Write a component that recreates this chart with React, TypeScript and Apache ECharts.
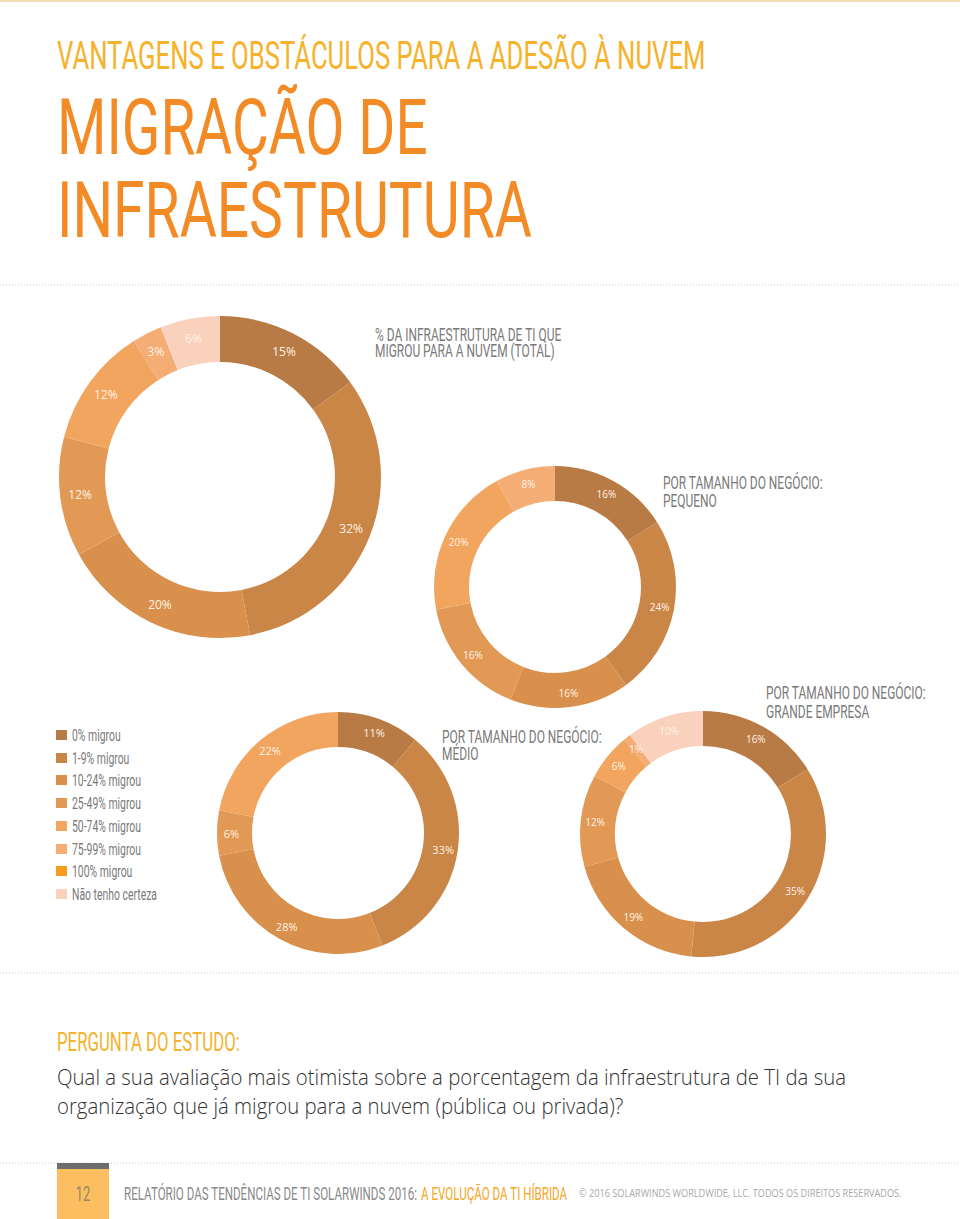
import React, { useEffect, useRef } from "react";
import * as echarts from "echarts";

// ---------- data ----------
const categories = [
  "0% migrou",
  "1-9% migrou",
  "10-24% migrou",
  "25-49% migrou",
  "50-74% migrou",
  "75-99% migrou",
  "100% migrou",
  "Não tenho certeza",
];
const categoryColors = [
  "#b97b45",
  "#ca8646",
  "#d8904c",
  "#e19955",
  "#f1a55e",
  "#f4ad75",
  "#f59d1f",
  "#f9d1bd",
];

const totalCats = ["0% migrou", "1-9% migrou", "10-24% migrou", "25-49% migrou", "50-74% migrou", "75-99% migrou", "Não tenho certeza"];
const totalValues = [15, 32, 20, 12, 12, 3, 6];

const smallCats = ["0% migrou", "1-9% migrou", "10-24% migrou", "25-49% migrou", "50-74% migrou", "75-99% migrou"];
const smallValues = [16, 24, 16, 16, 20, 8];

const mediumCats = ["0% migrou", "1-9% migrou", "10-24% migrou", "25-49% migrou", "50-74% migrou"];
const mediumValues = [11, 33, 28, 6, 22];

const largeCats = ["0% migrou", "1-9% migrou", "10-24% migrou", "25-49% migrou", "50-74% migrou", "75-99% migrou", "Não tenho certeza"];
const largeValues = [16, 35, 19, 12, 6, 1, 10];

// ---------- helpers ----------
const COND = "'Liberation Sans Narrow', 'Roboto', sans-serif";
const OPEN = "'Open Sans', sans-serif";

let measureCtx: CanvasRenderingContext2D | null = null;
function fit(text: string, font: string, width: number) {
  if (!measureCtx) measureCtx = document.createElement("canvas").getContext("2d");
  measureCtx!.font = font;
  const w = measureCtx!.measureText(text).width;
  return w > 0 ? width / w : 1;
}

function txt(text: string, x: number, y: number, font: string, fill: string, scaleX: number, align = "left") {
  return {
    type: "text",
    x,
    y,
    scaleX,
    silent: true,
    style: { text, x: 0, y: 0, font, fill, align, verticalAlign: "middle", textAlign: align, textVerticalAlign: "middle" },
  };
}

function colorOf(name: string) {
  return categoryColors[categories.indexOf(name)];
}

function pieSeries(cats: string[], values: number[], center: number[], radius: number[], fontSize: number) {
  return {
    type: "pie",
    center,
    radius,
    startAngle: 90,
    clockwise: true,
    silent: true,
    avoidLabelOverlap: false,
    emphasis: { disabled: true },
    labelLine: { show: false },
    label: {
      show: true,
      position: "inside",
      formatter: "{c}%",
      color: "#fff3e6",
      fontFamily: "Open Sans",
      fontSize,
    },
    itemStyle: { borderWidth: 0 },
    data: cats.map((n, i) => ({ name: n, value: values[i], itemStyle: { color: colorOf(n) } })),
  };
}

function dotted(y: number, x1 = 0, x2 = 960) {
  return {
    type: "line",
    silent: true,
    shape: { x1, y1: y, x2, y2: y },
    style: { stroke: "#c9c9c9", lineWidth: 1, lineDash: [1, 2] },
  };
}

export default function App() {
  const ref = useRef<HTMLDivElement>(null);
  useEffect(() => {
    if (!ref.current) return;
    const chart = echarts.init(ref.current, undefined, { renderer: "svg" });

    const fT1 = `normal 38px ${COND}`;
    const fT2 = `normal 78px ${COND}`;
    const fSub = `normal 18.5px ${COND}`;
    const fLeg = `normal 16.5px ${COND}`;
    const fQ = `300 21.5px ${OPEN}`;
    const fPerg = `normal 25px ${COND}`;
    const fFoot = `normal 19px ${COND}`;
    const fCopy = `normal 11px ${OPEN}`;

    const sSub = fit("POR TAMANHO DO NEGÓCIO:", fSub, 160);
    const sLeg = fit("Não tenho certeza", fLeg, 85);
    const sQ = fit("Qual a sua avaliação mais otimista sobre a porcentagem da infraestrutura de TI da sua", fQ, 789);
    const sFoot = fit("RELATÓRIO DAS TENDÊNCIAS DE TI SOLARWINDS 2016:", fFoot, 294);

    const legendRows = [735, 758, 780, 803, 826, 849, 871, 894];
    const legendGraphics: any[] = [];
    categories.forEach((c, i) => {
      legendGraphics.push({
        type: "rect",
        silent: true,
        shape: { x: 56, y: legendRows[i] - 5, width: 11, height: 10 },
        style: { fill: categoryColors[i] },
      });
      legendGraphics.push(txt(c, 72, legendRows[i], fLeg, "#7a7a7a", sLeg));
    });

    const graphic: any[] = [
      { type: "rect", silent: true, shape: { x: 0, y: 0, width: 960, height: 2 }, style: { fill: "#f4dcb2" } },
      txt("VANTAGENS E OBSTÁCULOS PARA A ADESÃO À NUVEM", 57, 56, fT1, "#f5b22a", fit("VANTAGENS E OBSTÁCULOS PARA A ADESÃO À NUVEM", fT1, 649)),
      txt("MIGRAÇÃO DE", 57, 128, fT2, "#f28a25", fit("MIGRAÇÃO DE", fT2, 371)),
      txt("INFRAESTRUTURA", 57, 211, fT2, "#f28a25", fit("INFRAESTRUTURA", fT2, 475)),
      dotted(285),
      txt("% DA INFRAESTRUTURA DE TI QUE", 375, 335, fSub, "#7a7a7a", sSub),
      txt("MIGROU PARA A NUVEM (TOTAL)", 375, 351, fSub, "#7a7a7a", sSub),
      txt("POR TAMANHO DO NEGÓCIO:", 663, 483, fSub, "#7a7a7a", sSub),
      txt("PEQUENO", 663, 501, fSub, "#7a7a7a", sSub),
      txt("POR TAMANHO DO NEGÓCIO:", 442, 737, fSub, "#7a7a7a", sSub),
      txt("MÉDIO", 442, 754, fSub, "#7a7a7a", sSub),
      txt("POR TAMANHO DO NEGÓCIO:", 766, 693, fSub, "#7a7a7a", sSub),
      txt("GRANDE EMPRESA", 766, 712, fSub, "#7a7a7a", sSub),
      ...legendGraphics,
      dotted(973),
      txt("PERGUNTA DO ESTUDO:", 57, 1042, fPerg, "#f5b22a", fit("PERGUNTA DO ESTUDO:", fPerg, 183)),
      txt("Qual a sua avaliação mais otimista sobre a porcentagem da infraestrutura de TI da sua", 57, 1077, fQ, "#333333", sQ),
      txt("organização que já migrou para a nuvem (pública ou privada)?", 57, 1106, fQ, "#333333", sQ),
      dotted(1163),
      { type: "rect", silent: true, shape: { x: 57, y: 1163, width: 52, height: 56 }, style: { fill: "#fbbf62" } },
      { type: "rect", silent: true, shape: { x: 57, y: 1163, width: 52, height: 6 }, style: { fill: "#6d6d6d" } },
      txt("12", 83, 1194, `normal 21px ${COND}`, "#9a8765", sFoot, "center"),
      txt("RELATÓRIO DAS TENDÊNCIAS DE TI SOLARWINDS 2016:", 124, 1193, fFoot, "#8a8a8a", sFoot),
      txt("A EVOLUÇÃO DA TI HÍBRIDA", 421, 1193, fFoot, "#f5a623", sFoot),
      txt("© 2016 SOLARWINDS WORLDWIDE, LLC. TODOS OS DIREITOS RESERVADOS.", 579, 1193, fCopy, "#a8a8a8",
        fit("© 2016 SOLARWINDS WORLDWIDE, LLC. TODOS OS DIREITOS RESERVADOS.", fCopy, 323)),
    ];

    chart.setOption({
      animation: false,
      backgroundColor: "#ffffff",
      series: [
        pieSeries(totalCats, totalValues, [220, 477], [115, 161], 12),
        pieSeries(smallCats, smallValues, [555, 587], [86, 121], 10),
        pieSeries(mediumCats, mediumValues, [338, 833], [86, 121], 11),
        pieSeries(largeCats, largeValues, [703, 834], [88, 123], 10),
      ],
      graphic,
    });
    return () => chart.dispose();
  }, []);

  return (
    <div
      ref={ref}
      style={{ position: "absolute", left: 0, top: 0, width: 960, height: 1219 }}
    />
  );
}
